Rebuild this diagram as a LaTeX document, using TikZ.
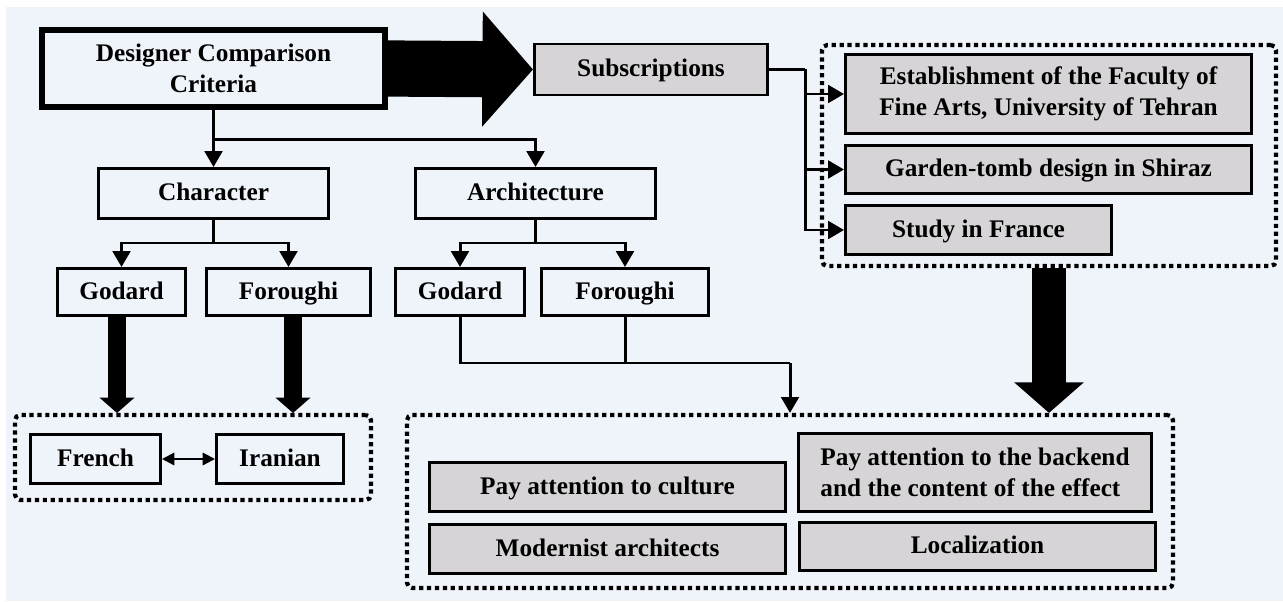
\documentclass[tikz,border=0pt]{standalone}
\usepackage{fontspec}
\setmainfont{Liberation Serif}
\usetikzlibrary{arrows.meta, positioning}
\definecolor{bgc}{HTML}{EFF3FA}
\definecolor{boxgray}{HTML}{D6D4D6}
\newcommand\pxl{0.02cm}

\begin{document}
\begin{tikzpicture}[x=0.02cm, y=-0.02cm,
    every node/.style={font=\bfseries\fontsize{14.4}{17.6}\selectfont, inner sep=0pt, align=center},
    frame/.style={draw, line width=1.7pt, minimum width=#1*\pxl},
    box/.style={frame=#1, text height=11pt, text depth=2.5pt},
    gbox/.style={box=#1, fill=boxgray},
    gframe/.style={frame=#1, fill=boxgray},
    dots/.style={draw, line width=2.4pt, dash pattern=on 2.4pt off 2.1pt, rounded corners=3pt, minimum width=#1*\pxl},
    conn/.style={line width=1.7pt, -{Triangle[width=10pt, length=9pt]}},
    fat/.style={line width=#1, -{Triangle[width=2*#1, length=0.9*#1]}}]
  \useasboundingbox (0,0) rectangle (1283,601);
  \fill[bgc] (6,7) rectangle (1283,601);

  \node[dots=356, minimum height=85*\pxl] (bx1) at (193,457.5) {};
  \node[dots=454, minimum height=221*\pxl] (bx2) at (1049,155.5) {};
  \node[dots=766, minimum height=173*\pxl] (bx3) at (790,501.5) {};

  \node[frame=343, line width=3.4pt, minimum height=77*\pxl] (c0) at (213.5,68.5) {Designer Comparison\\Criteria};
  \node[gbox=233, minimum height=51*\pxl] (s0) at (651,69.5) {Subscriptions};

  \node[gframe=406, minimum height=79*\pxl] (r1) at (1048.5,94) {Establishment of the Faculty of\\Fine Arts, University of Tehran};
  \node[gbox=406, minimum height=48*\pxl] (r2) at (1048.5,169.5) {Garden-tomb design in Shiraz};
  \node[gbox=266, minimum height=49*\pxl] (r3) at (978.5,230) {Study in France};

  \node[box=230, minimum height=50*\pxl] (ch) at (213.5,193.5) {Character};
  \node[box=240, minimum height=50*\pxl] (ar) at (535.5,193.5) {Architecture};

  \node[box=128, minimum height=47*\pxl] (g1) at (121.5,292) {Godard};
  \node[box=164, minimum height=47*\pxl] (f1) at (288.5,292) {Foroughi};
  \node[box=129, minimum height=47*\pxl] (g2) at (460,292) {Godard};
  \node[box=167, minimum height=47*\pxl] (f2) at (625,292) {Foroughi};

  \node[box=130, minimum height=49*\pxl] (fr) at (95.5,459) {French};
  \node[box=127, minimum height=49*\pxl] (ir) at (280,459) {Iranian};

  \node[gbox=356, minimum height=49*\pxl] (p1) at (607.5,487) {Pay attention to culture};
  \node[gbox=356, minimum height=49*\pxl] (p2) at (607.5,549) {Modernist architects};
  \node[gframe=353, minimum height=78*\pxl, align=left] (p3) at (975,472.5) {Pay attention to the backend\\and the content of the effect};
  \node[gbox=356, minimum height=48*\pxl] (p4) at (977.5,546.5) {Localization};

  \coordinate (j1) at (805,69.5);
  \coordinate (j2) at (790,363);
  \coordinate (t1) at (117,413);
  \coordinate (t2) at (293,413);

  \draw[fat=32pt] (c0.east) -- (s0.west);
  \draw[conn] (c0.south) -- (ch.north);
  \draw[conn] (c0.south) -- ++(0,30) -| (ar.north);
  \draw[conn] (ch.south) -- ++(0,23) -| (g1.north);
  \draw[conn] (ch.south) -- ++(0,23) -| (f1.north);
  \draw[conn] (ar.south) -- ++(0,23) -| (g2.north);
  \draw[conn] (ar.south) -- ++(0,23) -| (f2.north);

  \draw[line width=1.7pt] (s0.east) -- (j1);
  \draw[conn] (j1) |- (r1.west);
  \draw[conn] (j1) |- (r2.west);
  \draw[conn] (j1) |- (r3.west);

  \draw[line width=1.7pt] (g2.south) |- (j2);
  \draw[line width=1.7pt] (f2.south) -- (f2.south |- j2);
  \draw[conn] (j2) -- (bx3.north);

  \draw[fat=9.7pt] (t1 |- g1.south) -- (t1);
  \draw[fat=9.7pt] (t2 |- f1.south) -- (t2);
  \draw[fat=19.3pt] (bx2.south) -- (bx2.south |- bx3.north);

  \draw[line width=1.2pt, {Triangle[width=7pt, length=7pt]}-{Triangle[width=7pt, length=7pt]}] (fr) -- (ir);
\end{tikzpicture}
\end{document}
